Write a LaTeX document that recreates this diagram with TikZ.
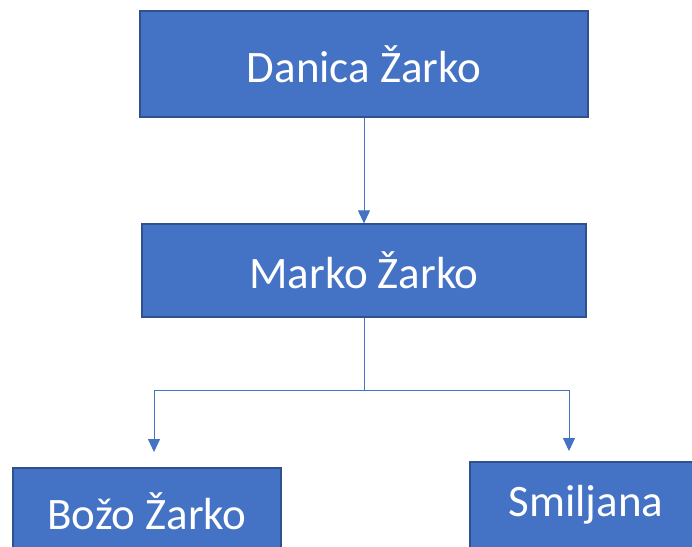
\documentclass[tikz,border=0pt]{standalone}
\usepackage{fontspec}
\setmainfont{Carlito}
\usetikzlibrary{arrows.meta}
\definecolor{boxblue}{HTML}{4472C4}
\definecolor{boxedge}{HTML}{2F528F}
\begin{document}
\begin{tikzpicture}[x=1pt,y=-1pt,
		person/.style={draw=boxedge,line width=1.2pt,fill=boxblue,text=white,inner sep=0pt,font=\fontsize{45}{52}\selectfont},
		link/.style={draw=boxblue,line width=0.9pt,-{Triangle[width=12pt,length=13pt]}}]
					\useasboundingbox (0,0) rectangle (692,546);
					\clip (0,0) rectangle (692,546);
					\node (danica) at (364,64)[person,minimum width=448pt,minimum height=106pt]{Danica Žarko};
					\node (marko) at (364,270.5)[person,minimum width=444pt,minimum height=93pt]{Marko Žarko};
					\node (bozo) at (147,511)[person,minimum width=268pt,minimum height=86pt]{Božo Žarko};
					\node (smiljana) at (586,505)[person,minimum width=232pt,minimum height=86pt]{Smiljana};
					% split point and arrow ends above the children
					\coordinate (split) at (364,390);
					\coordinate (bozotip) at (154,452);
					\coordinate (smiljanatip) at (569,451);
					\draw[link] (danica.south) -- (marko.north);
					\draw[link] (marko.south) -- (split) -| (bozotip);
					\draw[link] (split) -| (smiljanatip);
				\end{tikzpicture}
\end{document}
